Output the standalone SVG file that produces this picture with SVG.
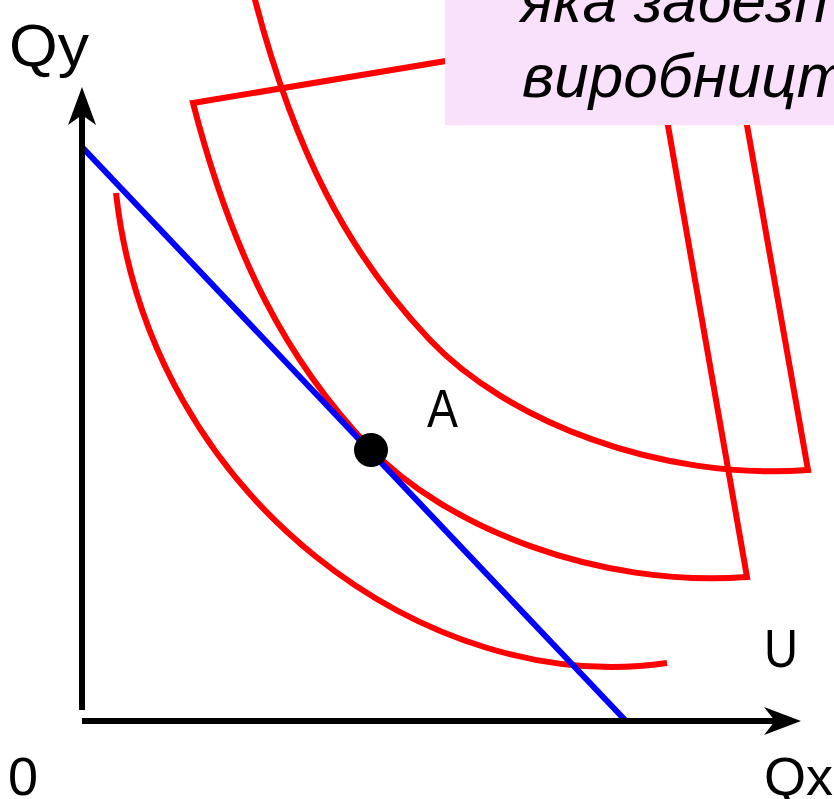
<svg xmlns="http://www.w3.org/2000/svg" width="834" height="799" viewBox="0 0 834 799">
<style>
.curve{fill:none;stroke:#FF0000;stroke-width:6;stroke-linejoin:miter}
.axis{fill:none;stroke:#000;stroke-width:6}
.lbl{font-family:"Liberation Sans",Arial,sans-serif;fill:#000}
.note{font-family:"Liberation Sans",Arial,sans-serif;font-style:italic;font-size:62px;fill:#000}
</style>
<rect width="834" height="799" fill="#fff"/>
<g id="connectors">
<g id="outer-curve"><path class="curve" d="M254,-4 C294.2,150.9 347.4,252.9 430,340 C505.7,419.9 658.5,481.1 808,470 L739,80"/></g>
<g id="middle-curve"><path class="curve" d="M470,57 L193,103 C233.2,257.9 286.4,359.9 369,447 C444.7,526.9 597.5,588.1 747,577 L660,80"/></g>
<g id="lower-curve"><path class="curve" d="M116,193 C150,500 430,698 667,663"/></g>
<g id="budget-line"><line x1="82" y1="147" x2="625" y2="720" stroke="#0000FF" stroke-width="6"/></g>
<g id="y-axis"><line class="axis" x1="82" y1="710" x2="82" y2="110"/><polygon points="82,87 96,125 82,115 68,125" fill="#000"/></g>
<g id="x-axis"><line class="axis" x1="82" y1="721" x2="785" y2="721"/><polygon points="801,721 764,707 775,721 764,735" fill="#000"/></g>
</g>
<g id="point-A"><circle cx="371" cy="450" r="17" fill="#000"/><text class="lbl" x="427" y="427" font-size="54" textLength="31" lengthAdjust="spacingAndGlyphs">A</text></g>
<g id="label-U"><text class="lbl" x="764" y="667" font-size="53" textLength="34" lengthAdjust="spacingAndGlyphs">U</text></g>
<g id="label-Qy"><text class="lbl" x="9" y="66" font-size="60" textLength="80" lengthAdjust="spacingAndGlyphs">Qy</text></g>
<g id="label-Qx"><text class="lbl" x="764" y="795" font-size="54">Qx</text></g>
<g id="label-0"><text class="lbl" x="8" y="795" font-size="54">0</text></g>
<g id="note">
<rect x="445" y="-2" width="392" height="127" fill="#F9E0FB"/>
<text class="note" x="520" y="22">яка забезп</text>
<text class="note" x="522" y="97">виробницт</text>
</g>
</svg>
